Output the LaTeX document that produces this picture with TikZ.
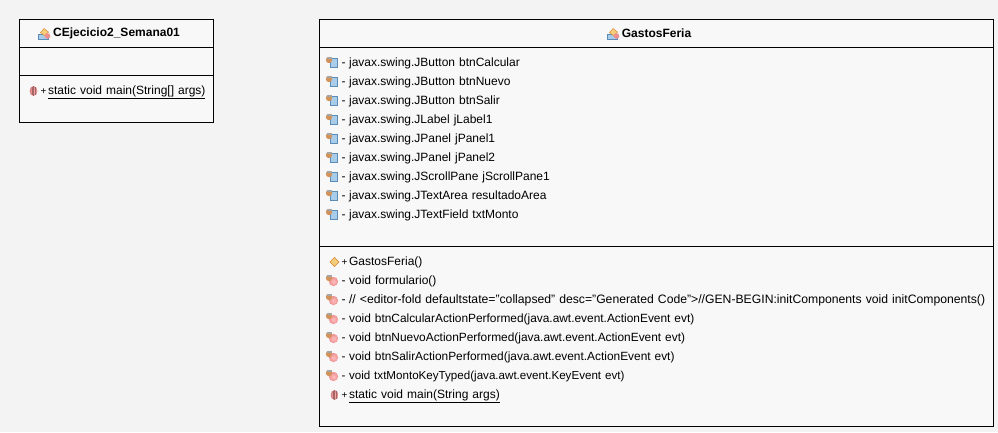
\documentclass[tikz,border=0pt]{standalone}
\usepackage{fontspec}
\setmainfont{Liberation Sans}
\usetikzlibrary{positioning}
\definecolor{pagegray}{HTML}{F3F3F3}
\definecolor{boxgray}{HTML}{F8F8F8}
\definecolor{iconblue}{HTML}{A9CDE9}
\definecolor{iconedge}{HTML}{5C8DB8}
\definecolor{icontan}{HTML}{D2935A}
\definecolor{iconpink}{HTML}{EE8F8F}
\definecolor{iconyellow}{HTML}{F4CE7C}
\newcommand{\vis}[1]{\makebox[7.6pt][l]{#1}}
\newcommand{\visplus}{\makebox[7.6pt][l]{\fontsize{10}{12}\selectfont +}}
\tikzset{
    person/.pic={
        \fill[icontan] (-2.5,-3.5) circle (3.2pt);
        \fill[gray!70] (-5,-6.5) rectangle (0,-5);
    },
    fieldicon/.pic={
        \filldraw[draw=iconedge, fill=iconblue] (-1,-5.5) rectangle (6,3.5);
        \pic {person};
    },
    methodicon/.pic={
        \shade[inner color=red!25, outer color=iconpink] (2,0) circle (4.6pt);
        \pic {person};
    },
    staticicon/.pic={
        \shade[inner color=red!30, outer color=iconpink!90!black] (0,-0.5) ellipse (3.9pt and 5pt);
        \draw[iconpink!70!black, very thin] (0,-5.5) -- (0,4.5);
        \draw[iconpink!70!black, very thin] (-1.8,-4.8) -- (-1.8,3.8);
        \draw[iconpink!70!black, very thin] (1.8,-4.8) -- (1.8,3.8);
    },
    ctoricon/.pic={
        \filldraw[draw=orange!70!gray, fill=iconyellow] (0,-5) -- (4.5,-0.5) -- (0,4) -- (-4.5,-0.5) -- cycle;
    },
    classicon/.pic={
        \filldraw[draw=iconedge, fill=iconblue] (-6,0.5) rectangle (4,5.5);
        \filldraw[draw=orange!70!gray, fill=iconyellow] (-3.5,-1) -- (0,-5) -- (4.5,-1.5) -- (1,2.5) -- cycle;
        \fill[iconpink] (3.5,2.5) circle (2.8pt);
    }
}

\begin{document}
\begin{tikzpicture}[
    x=1pt, y=-1pt,
    node distance=0pt,
    every node/.style={outer sep=0pt},
    head/.style={rectangle, draw=black, fill=boxgray, font=\fontsize{12}{14}\selectfont\bfseries},
    part/.style={rectangle, draw=black, fill=boxgray},
    row/.style={inner sep=0pt, text width=645pt, minimum height=19pt, text height=9pt, text depth=3pt, align=left, font=\fontsize{12}{14}\selectfont},
    tightrow/.style={row, font=\fontsize{11.9}{14}\selectfont},
    longrow/.style={row, font=\fontsize{12.2}{14}\selectfont},
    keyrow/.style={row, font=\fontsize{11.6}{14}\selectfont}
]
\useasboundingbox[fill=pagegray] (0,0) rectangle (998,432);

% Class CEjecicio2_Semana01
\node (mainhead) [head, anchor=north west, minimum width=194pt, minimum height=28pt] at (19.5,19.5) {CEjecicio2\_Semana01};
\node (mainattrs) [part, below=of mainhead, minimum width=194pt, minimum height=28pt] {};
\node (mainops) [part, below=of mainattrs, minimum width=194pt, minimum height=47pt] {};
\node (mainmain) [row, text width=170pt, anchor=west] at (40.5,91.5) {\visplus\underline{static void main(String[] args)}};
\pic at (44,33.5) {classicon};
\pic at ([xshift=-7pt]mainmain.west) {staticicon};

% Class GastosFeria
\node (gastoshead) [head, anchor=north west, minimum width=674pt, minimum height=28pt] at (319.5,19.5) {GastosFeria};
\node (gastosattrs) [part, below=of gastoshead, minimum width=674pt, minimum height=199pt] {};
\node (gastosops) [part, below=of gastosattrs, minimum width=674pt, minimum height=180pt] {};
\pic at (613,33.5) {classicon};

% Attributes
\node (calcular) [row, anchor=west] at (341.5,63.5) {\vis{-}javax.swing.JButton btnCalcular};
\node (nuevo) [row, below=of calcular] {\vis{-}javax.swing.JButton btnNuevo};
\node (salir) [row, below=of nuevo] {\vis{-}javax.swing.JButton btnSalir};
\node (label) [row, below=of salir] {\vis{-}javax.swing.JLabel jLabel1};
\node (panela) [row, below=of label] {\vis{-}javax.swing.JPanel jPanel1};
\node (panelb) [row, below=of panela] {\vis{-}javax.swing.JPanel jPanel2};
\node (scroll) [row, below=of panelb] {\vis{-}javax.swing.JScrollPane jScrollPane1};
\node (area) [row, below=of scroll] {\vis{-}javax.swing.JTextArea resultadoArea};
\node (monto) [row, below=of area] {\vis{-}javax.swing.JTextField txtMonto};

\pic at ([xshift=-10pt]calcular.west) {fieldicon};
\pic at ([xshift=-10pt]nuevo.west) {fieldicon};
\pic at ([xshift=-10pt]salir.west) {fieldicon};
\pic at ([xshift=-10pt]label.west) {fieldicon};
\pic at ([xshift=-10pt]panela.west) {fieldicon};
\pic at ([xshift=-10pt]panelb.west) {fieldicon};
\pic at ([xshift=-10pt]scroll.west) {fieldicon};
\pic at ([xshift=-10pt]area.west) {fieldicon};
\pic at ([xshift=-10pt]monto.west) {fieldicon};

% Operations
\node (ctor) [row, anchor=west] at (341.5,262.5) {\visplus GastosFeria()};
\node (formulario) [row, below=of ctor] {\vis{-}void formulario()};
\node (init) [longrow, below=of formulario] {\vis{-}// <editor-fold defaultstate="collapsed" desc="Generated Code">//GEN-BEGIN:initComponents void initComponents()};
\node (calcularact) [tightrow, below=of init] {\vis{-}void btnCalcularActionPerformed(java.awt.event.ActionEvent evt)};
\node (nuevoact) [tightrow, below=of calcularact] {\vis{-}void btnNuevoActionPerformed(java.awt.event.ActionEvent evt)};
\node (saliract) [tightrow, below=of nuevoact] {\vis{-}void btnSalirActionPerformed(java.awt.event.ActionEvent evt)};
\node (typed) [keyrow, below=of saliract] {\vis{-}void txtMontoKeyTyped(java.awt.event.KeyEvent evt)};
\node (gastosmain) [row, below=of typed] {\visplus\underline{static void main(String args)}};

\pic at ([xshift=-7pt]ctor.west) {ctoricon};
\pic at ([xshift=-10pt]formulario.west) {methodicon};
\pic at ([xshift=-10pt]init.west) {methodicon};
\pic at ([xshift=-10pt]calcularact.west) {methodicon};
\pic at ([xshift=-10pt]nuevoact.west) {methodicon};
\pic at ([xshift=-10pt]saliract.west) {methodicon};
\pic at ([xshift=-10pt]typed.west) {methodicon};
\pic at ([xshift=-7pt]gastosmain.west) {staticicon};

\end{tikzpicture}
\end{document}
